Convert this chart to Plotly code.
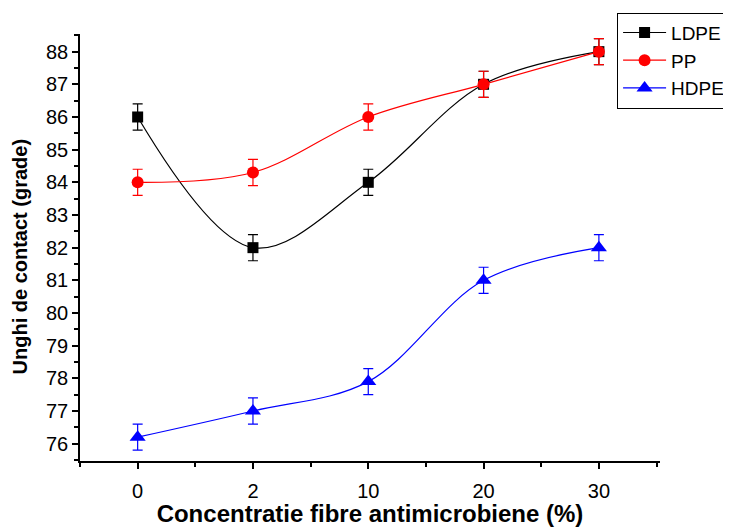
import plotly.graph_objects as go

categories = ["0", "2", "10", "20", "30"]
ldpe = [86.0, 82.0, 84.0, 87.0, 88.0]
pp = [84.0, 84.3, 86.0, 87.0, 88.0]
hdpe = [76.2, 77.0, 77.9, 81.0, 82.0]
err = [0.4, 0.4, 0.4, 0.4, 0.4]

x_idx = list(range(len(categories)))

series = [
    ("LDPE", ldpe, "black", "square", 11),
    ("PP", pp, "red", "circle", 12),
    ("HDPE", hdpe, "blue", "triangle-up", 14),
]

fig = go.Figure()
for name, vals, col, sym, sz in series:
    fig.add_trace(go.Scatter(
        x=x_idx, y=vals, name=name, mode="lines+markers",
        line=dict(color=col, width=1.2, shape="spline", smoothing=1.0),
        marker=dict(symbol=sym, size=sz, color=col),
        error_y=dict(type="data", array=err, visible=True, color=col,
                     thickness=1.2, width=5),
    ))

fig.update_layout(
    width=723, height=519,
    paper_bgcolor="white", plot_bgcolor="white",
    margin=dict(l=72, r=71, t=26, b=66, autoexpand=False),
    font=dict(family="Liberation Sans, Arial, sans-serif", color="black", size=20),
    showlegend=True,
    legend=dict(x=0.926, y=1.05, xanchor="left", yanchor="top",
                bordercolor="black", borderwidth=1, bgcolor="white",
                font=dict(size=19), tracegroupgap=0, itemwidth=43),
    xaxis=dict(
        range=[-0.5, 4.53], tickmode="array", tickvals=x_idx, ticktext=categories,
        showgrid=False, zeroline=False, showline=True, linecolor="black", linewidth=1.5,
        ticks="outside", ticklen=6, tickwidth=1.5, tickcolor="black",
        minor=dict(tickvals=[-0.5, 0.5, 1.5, 2.5, 3.5, 4.5], ticks="outside", ticklen=4,
                   tickwidth=1.5, tickcolor="black"),
        ticklabelstandoff=5,
        title=dict(text="<b>Concentratie fibre antimicrobiene (%)</b>", font=dict(size=24), standoff=0),
        tickfont=dict(size=20), automargin=False,
    ),
    yaxis=dict(
        range=[75.47, 88.54], tickmode="linear", tick0=76, dtick=1,
        showgrid=False, zeroline=False, showline=True, linecolor="black", linewidth=1.5,
        ticks="outside", ticklen=6, tickwidth=1.5, tickcolor="black",
        minor=dict(dtick=0.5, tick0=75.5, ticks="outside", ticklen=4,
                   tickwidth=1.5, tickcolor="black"),
        tickfont=dict(size=20), automargin=False,
    ),
    annotations=[dict(
        text="<b>Unghi de contact (grade)</b>", xref="paper", yref="paper",
        x=-60 / 580, y=0.479, xanchor="center", yanchor="middle",
        textangle=-90, showarrow=False, font=dict(size=20),
    )],
)

fig.write_html("out.html")
